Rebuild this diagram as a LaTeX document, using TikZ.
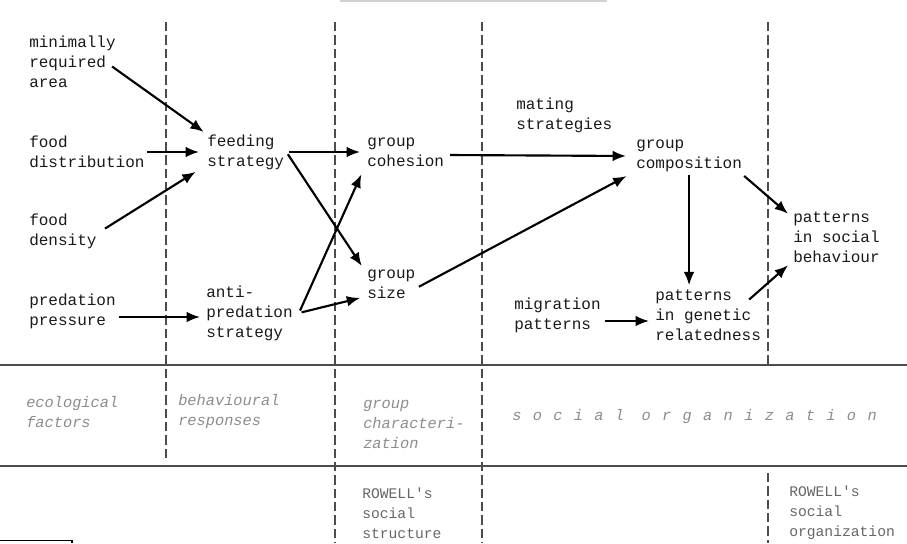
\documentclass[tikz,border=0pt]{standalone}
\usepackage{fontspec}
\setmonofont{Liberation Mono}
\newfontfamily\spacedmono[LetterSpace=74]{Liberation Mono}
\usetikzlibrary{arrows.meta,calc}
\begin{document}
\begin{tikzpicture}[x=0.75pt,y=-0.75pt,
  lbl/.style={font=\ttfamily\fontsize{12}{15}\selectfont, text=black!90, align=left, anchor=west, inner sep=0pt},
  cat/.style={font=\ttfamily\itshape\fontsize{11.5}{15}\selectfont, text=black!45, align=left, anchor=west, inner sep=0pt},
  rw/.style={font=\ttfamily\fontsize{11}{15}\selectfont, text=black!60, align=left, anchor=west, inner sep=0pt},
  arr/.style={line width=1.6pt, -{Latex[length=10pt,width=8pt]}, shorten <=2pt, shorten >=3pt},
  sep/.style={black!70, line width=0.8pt, dash pattern=on 7pt off 3pt},
  rule/.style={black!70, line width=1.1pt}]
\useasboundingbox (0,0) rectangle (907,543);
% artefacts of the scan
\fill[black!18] (340,0) rectangle (607,2);
\draw[line width=0.8pt] (0,540.5) -- (72,540.5) -- (72,543);
% column separators
\draw[sep] (166,22) -- (166,460);
\draw[sep] (335,22) -- (335,543);
\draw[sep] (482,22) -- (482,543);
\draw[sep] (768,22) -- (768,365);
\draw[sep] (768,473) -- (768,543);
% band rules
\draw[rule] (0,365) -- (907,365);
\draw[rule] (0,466) -- (907,466);
% nodes
\node[lbl] (min) at (29,62) {minimally\\required\\area};
\node[lbl] (fdist) at (29,152) {food\\distribution};
\node[lbl] (fdens) at (29,231) {food\\density};
\node[lbl] (pred) at (29,311) {predation\\pressure};
\node[lbl] (feed) at (207,152) {feeding\\strategy};
\node[lbl] (anti) at (206,313) {anti-\\predation\\strategy};
\node[lbl] (coh) at (367,152) {group\\cohesion};
\node[lbl] (size) at (367,284) {group\\size};
\node[lbl] (mat) at (516,115) {mating\\strategies};
\node[lbl] (comp) at (636,156) {group\\composition};
\node[lbl] (soc) at (793,237) {patterns\\in social\\behaviour};
\node[lbl] (migr) at (514,315) {migration\\patterns};
\node[lbl] (gen) at (655,315) {patterns\\in genetic\\relatedness};
% band labels
\node[cat] (eco) at (26,412) {ecological\\factors};
\node[cat] (beh) at (178,412) {behavioural\\responses};
\node[cat] (grp) at (363,424) {group\\characteri-\\zation};
\node[cat, font=\spacedmono\itshape\fontsize{11.5}{15}\selectfont] (sorg) at (512,417) {social\hspace{13pt}organization};
\node[rw] (rw1) at (362,513) {ROWELL's\\social\\structure};
\node[rw] (rw2) at (789,513) {ROWELL's\\social\\organization};
% connectors
\draw[arr] ($(min.east)+(-6,3)$) -- (feed.north west);
\draw[arr] (fdist.east) -- ($(feed.west)+(-4,0)$);
\draw[arr] ($(fdens.east)+(6,-1)$) -- ($(feed.south west)+(-8,0)$);
\draw[arr] ($(pred.east)+(0,6)$) -- ($(anti.west)+(-2,4)$);
\draw[arr] ($(feed.east)+(2,0)$) -- ($(coh.west)+(-3,0)$);
\draw[arr] ($(feed.east)+(2,0)$) -- ($(size.north west)+(-3,0)$);
\draw[arr] ($(anti.east)+(6,0)$) -- ($(coh.south west)+(-4,4)$);
\draw[arr] ($(anti.east)+(6,0)$) -- ($(size.west)+(-3,13)$);
\draw[arr] ($(coh.east)+(3,3)$) -- ($(comp.west)+(-6,0)$);
\draw[arr] ($(size.east)+(1,4)$) -- ($(comp.south west)+(-6,2)$);
\draw[arr] (comp.south) -- (comp.south |- gen.north);
\draw[arr] ($(comp.south east)+(0,2)$) -- ($(soc.north west)+(-2,5)$);
\draw[arr] ($(migr.east)+(1,6)$) -- ($(gen.west)+(-2,6)$);
\draw[arr] ($(gen.north east)+(-14,12)$) -- ($(soc.south west)+(-2,0)$);
\end{tikzpicture}
\end{document}
